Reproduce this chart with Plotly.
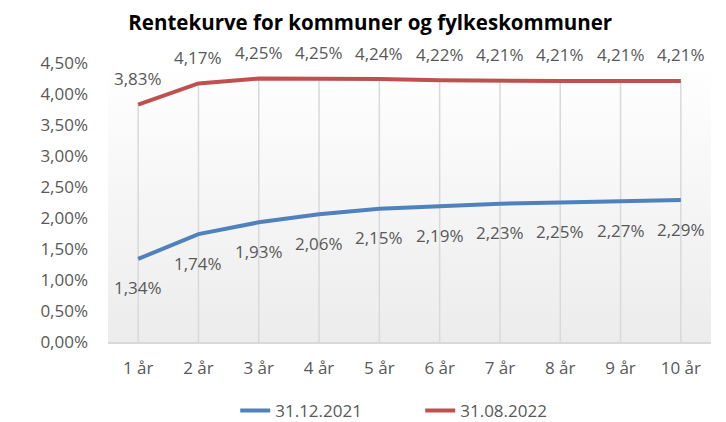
import plotly.graph_objects as go

categories = ["1 år", "2 år", "3 år", "4 år", "5 år", "6 år", "7 år", "8 år", "9 år", "10 år"]
rente_2021 = [1.34, 1.74, 1.93, 2.06, 2.15, 2.19, 2.23, 2.25, 2.27, 2.29]
rente_2022 = [3.83, 4.17, 4.25, 4.25, 4.24, 4.22, 4.21, 4.21, 4.21, 4.21]
y_ticks = [0, 0.5, 1.0, 1.5, 2.0, 2.5, 3.0, 3.5, 4.0, 4.5]

FONT = "Open Sans"
GREY = "#595959"
BLUE = "#4F81BD"
RED = "#C0504D"

xs = list(range(len(categories)))
y_max = 4.5
x_lo, x_hi = -0.5, len(categories) - 0.5

def fmt(v):
    return f"{v:.2f}".replace(".", ",") + "%"

fig = go.Figure()

# gradient plot background
fig.add_trace(go.Scatter(
    x=[x_lo, x_hi, x_hi, x_lo, x_lo], y=[0, 0, y_max, y_max, 0],
    mode="lines", line=dict(width=0), fill="toself",
    fillgradient=dict(type="vertical", colorscale=[[0, "#ececec"], [1, "#ffffff"]]),
    hoverinfo="skip", showlegend=False))

# drop lines
dx, dy = [], []
for i, v in zip(xs, rente_2022):
    dx += [i, i, None]
    dy += [0, v, None]
fig.add_trace(go.Scatter(x=dx, y=dy, mode="lines",
                         line=dict(color="#d9d9d9", width=1.5),
                         hoverinfo="skip", showlegend=False))

fig.add_trace(go.Scatter(x=xs, y=rente_2021, mode="lines", name="31.12.2021",
                         line=dict(color=BLUE, width=4)))
fig.add_trace(go.Scatter(x=xs, y=rente_2022, mode="lines", name="31.08.2022",
                         line=dict(color=RED, width=4)))

for i, v in zip(xs, rente_2021):
    fig.add_annotation(x=i, y=v, text=fmt(v), showarrow=False, yshift=-29,
                       font=dict(family=FONT, size=17, color=GREY))
for i, v in zip(xs, rente_2022):
    fig.add_annotation(x=i, y=v, text=fmt(v), showarrow=False, yshift=26,
                       font=dict(family=FONT, size=17, color=GREY))

fig.update_layout(
    width=726, height=422,
    margin=dict(l=108, r=15, t=63, b=80, autoexpand=False),
    paper_bgcolor="white", plot_bgcolor="white",
    separators=", ",
    title=dict(text="<b>Rentekurve for kommuner og fylkeskommuner</b>",
               x=0.51, xanchor="center", y=0.947, yanchor="middle",
               font=dict(family=FONT, size=20.5, color="#000000")),
    legend=dict(orientation="h", xref="container", x=0.324, xanchor="left",
                yref="container", y=0.026, yanchor="middle",
                entrywidth=140, entrywidthmode="pixels",
                font=dict(family=FONT, size=17, color=GREY)),
    showlegend=True,
)
fig.update_xaxes(range=[x_lo, x_hi], tickvals=xs, ticktext=categories,
                 showgrid=False, zeroline=False, showline=True, linecolor="#d9d9d9",
                 linewidth=1.5, ticks="", ticklabelstandoff=10, automargin=False,
                 tickfont=dict(family=FONT, size=17, color=GREY))
fig.update_yaxes(range=[0, y_max], tickvals=y_ticks, ticktext=[fmt(t) for t in y_ticks],
                 showgrid=False, zeroline=False, showline=False, ticks="",
                 ticklabelstandoff=19, automargin=False,
                 tickfont=dict(family=FONT, size=17, color=GREY))

fig.write_html("out.html", config={"displayModeBar": False},
               post_script="document.body.style.margin='0';")
